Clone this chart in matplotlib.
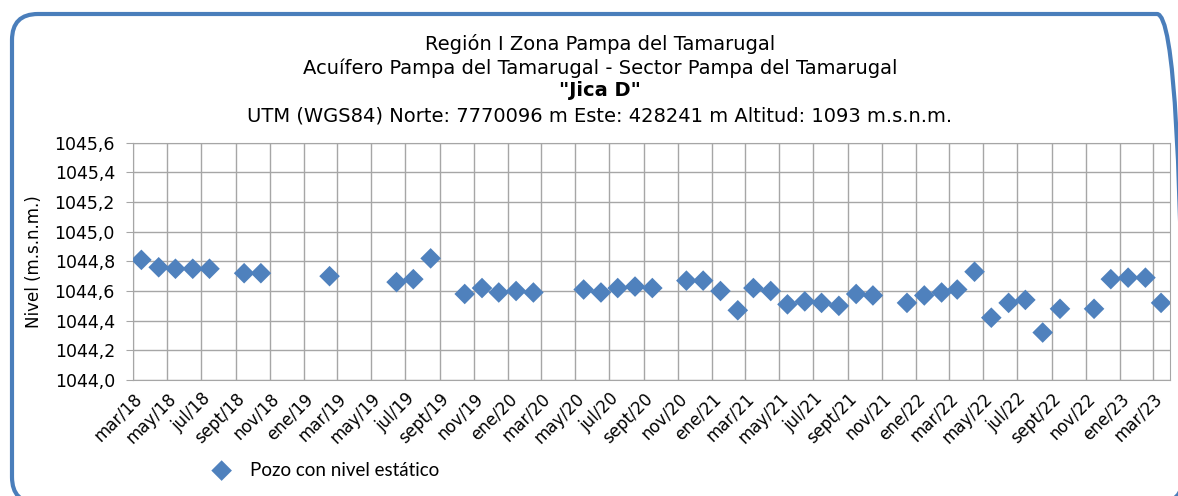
import pandas as pd
import matplotlib
matplotlib.use('Agg')
from matplotlib import pyplot as plt
from matplotlib.patches import FancyBboxPatch
import matplotlib.ticker as mticker

# mediciones (mes, nivel estatico)
months = ['2018-03', '2018-04', '2018-05', '2018-06', '2018-07', '2018-09', '2018-10',
          '2019-02', '2019-06', '2019-07', '2019-08', '2019-10', '2019-11', '2019-12',
          '2020-01', '2020-02', '2020-05', '2020-06', '2020-07', '2020-08', '2020-09',
          '2020-11', '2020-12', '2021-01', '2021-02', '2021-03', '2021-04', '2021-05',
          '2021-06', '2021-07', '2021-08', '2021-09', '2021-10', '2021-12', '2022-01',
          '2022-02', '2022-03', '2022-04', '2022-05', '2022-06', '2022-07', '2022-08',
          '2022-09', '2022-11', '2022-12', '2023-01', '2023-02', '2023-03']
nivel = [1044.81, 1044.76, 1044.75, 1044.75, 1044.75, 1044.72, 1044.72,
         1044.70, 1044.66, 1044.68, 1044.82, 1044.58, 1044.62, 1044.59,
         1044.60, 1044.59, 1044.61, 1044.59, 1044.62, 1044.63, 1044.62,
         1044.67, 1044.67, 1044.60, 1044.47, 1044.62, 1044.60, 1044.51,
         1044.53, 1044.52, 1044.50, 1044.58, 1044.57, 1044.52, 1044.57,
         1044.59, 1044.61, 1044.73, 1044.42, 1044.52, 1044.54, 1044.32,
         1044.48, 1044.48, 1044.68, 1044.69, 1044.69, 1044.52]

tick_labels = ['mar/18', 'may/18', 'jul/18', 'sept/18', 'nov/18', 'ene/19',
               'mar/19', 'may/19', 'jul/19', 'sept/19', 'nov/19', 'ene/20',
               'mar/20', 'may/20', 'jul/20', 'sept/20', 'nov/20', 'ene/21',
               'mar/21', 'may/21', 'jul/21', 'sept/21', 'nov/21', 'ene/22',
               'mar/22', 'may/22', 'jul/22', 'sept/22', 'nov/22', 'ene/23',
               'mar/23']

titles = ['Región I Zona Pampa del Tamarugal',
          'Acuífero Pampa del Tamarugal - Sector Pampa del Tamarugal',
          '"Jica D"',
          'UTM (WGS84) Norte: 7770096 m Este: 428241 m Altitud: 1093 m.s.n.m.']

blue = '#4F81BD'
grid_gray = '#A6A6A6'

# puntos al centro del mes (eje de fechas tipo Excel)
dates = pd.to_datetime(months) + pd.Timedelta(days=15)
ticks = pd.date_range('2018-03-01', '2023-03-01', freq='2MS')

fig = plt.figure(figsize=(11.78, 4.96), dpi=100)
W, H = 1178, 496

# marco redondeado (en pulgadas), lado derecho queda fuera del lienzo
box = FancyBboxPatch((0.12, -0.07), 11.71, 4.89,
                     boxstyle='round,pad=0,rounding_size=0.26',
                     transform=fig.dpi_scale_trans, fill=False,
                     edgecolor='#4A7EBB', linewidth=3, clip_on=False)
fig.patches.append(box)

ax = fig.add_axes([133 / W, 1 - 380 / H, (1170 - 133) / W, (380 - 142.7) / H])
ax.scatter(dates, nivel, marker='D', s=110, color=blue, zorder=3,
           edgecolors='none', label='Pozo con nivel estático')

ax.set_xlim(pd.Timestamp('2018-03-01'), pd.Timestamp('2023-04-01'))
ax.set_ylim(1044.0, 1045.6)
ax.set_xticks(ticks)
ax.set_xticklabels(tick_labels, rotation=45, ha='right', rotation_mode='anchor',
                   fontsize=12)
ax.yaxis.set_major_locator(mticker.MultipleLocator(0.2))
ax.yaxis.set_major_formatter(mticker.FuncFormatter(
    lambda v, p: f'{v:.1f}'.replace('.', ',')))
ax.tick_params(axis='y', labelsize=12.5, length=5, color=grid_gray, pad=8)
ax.tick_params(axis='x', length=0, pad=7)
ax.grid(True, color=grid_gray, linewidth=1)
ax.set_axisbelow(True)
for s in ax.spines.values():
    s.set_color(grid_gray)
ax.set_ylabel('Nivel (m.s.n.m.)', fontsize=12, labelpad=8)

ty = [44, 68, 91, 116]
for i, t in enumerate(titles):
    fig.text(600 / W, 1 - ty[i] / H, t, ha='center', va='center', fontsize=14,
             fontweight='bold' if i == 2 else 'normal')

ax.legend(loc='center left', bbox_to_anchor=(186 / W, 1 - 470 / H),
          bbox_transform=fig.transFigure, frameon=False,
          handletextpad=0.5, prop={'family': 'Lato', 'size': 13.5})

fig.savefig('out.png', dpi=100)
